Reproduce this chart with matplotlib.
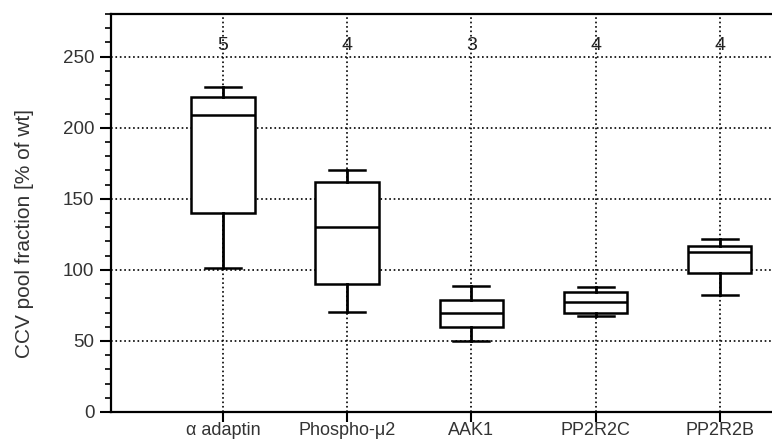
import matplotlib
matplotlib.use("Agg")
import matplotlib.pyplot as plt
from matplotlib.ticker import MultipleLocator

plt.rcParams['font.family'] = ['Liberation Sans', 'DejaVu Sans']

# values
labels = ["α adaptin", "Phospho-μ2", "AAK1", "PP2R2C", "PP2R2B"]
whisker_low = [101.6, 70.7, 50.2, 67.8, 82.6]
q1 = [139.9, 89.7, 60.1, 69.9, 97.7]
medians = [208.9, 130.5, 69.5, 77.2, 112.9]
q3 = [221.8, 161.7, 79.1, 84.7, 117.1]
whisker_high = [228.9, 170.6, 88.9, 87.8, 121.8]
n_values = [5, 4, 3, 4, 4]

stats = []
for i in range(len(labels)):
    stats.append({
        "label": labels[i],
        "whislo": whisker_low[i],
        "q1": q1[i],
        "med": medians[i],
        "q3": q3[i],
        "whishi": whisker_high[i],
        "fliers": [],
    })

fig = plt.figure(figsize=(7.72, 4.41), dpi=100)
ax = fig.add_axes([111 / 772, 1 - 412 / 441, 1 - 111 / 772, 398 / 441])

positions = list(range(1, len(labels) + 1))
ax.bxp(stats, positions=positions, widths=0.51, showfliers=False,
       patch_artist=True,
       boxprops=dict(facecolor="white", edgecolor="black", linewidth=1.8, zorder=3),
       whiskerprops=dict(color="black", linewidth=2.0, linestyle="-", zorder=3),
       capprops=dict(color="black", linewidth=1.8, zorder=3),
       medianprops=dict(color="black", linewidth=1.8, zorder=4),
       capwidths=0.29)

# number of experiments above each box
for pos, n in zip(positions, n_values):
    ax.text(pos, 258, str(n), ha="center", va="center", fontsize=14, color="#222222")

ax.set_xlim(0.1, 5.42)
ax.set_ylim(0, 280)
ax.set_xticks(positions)
ax.set_xticklabels(labels, fontsize=13, color="#333333")
ax.yaxis.set_major_locator(MultipleLocator(50))
ax.yaxis.set_minor_locator(MultipleLocator(10))
ax.tick_params(axis="y", which="major", length=8, width=1.5, labelsize=13.5,
               labelcolor="#333333", pad=4)
ax.tick_params(axis="y", which="minor", length=4, width=1.2)
ax.tick_params(axis="x", which="major", length=7, width=1.5, pad=0.5)

ax.grid(True, which="major", linestyle=":", color="black", linewidth=1.2, zorder=1)
ax.set_axisbelow(True)

for side in ["left", "bottom", "top"]:
    ax.spines[side].set_linewidth(1.6)
ax.spines["right"].set_visible(False)

ax.set_ylabel("CCV pool fraction [% of wt]", fontsize=15, color="#333333")
ax.yaxis.label.set_va("center")
ax.yaxis.set_label_coords((24 - 111) / 661, (412 - 233) / 398)

fig.savefig("out.png", dpi=100)
